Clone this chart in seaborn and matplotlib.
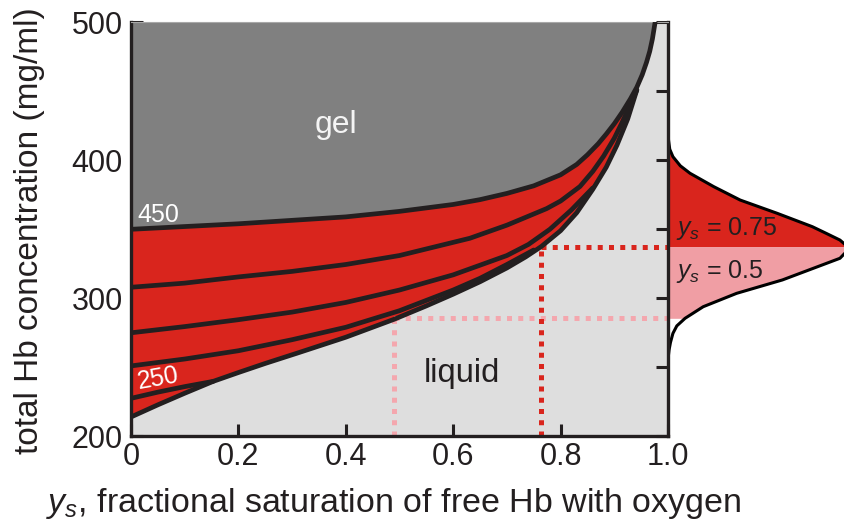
import numpy as np
import pandas as pd
import matplotlib
matplotlib.use("Agg")
import matplotlib.pyplot as plt
import seaborn as sns

# ---------------- data ----------------
# gel boundary (top black curve)
gel_x = [0, 0.1, 0.2, 0.3, 0.4, 0.5, 0.6, 0.65, 0.7, 0.75, 0.8, 0.83, 0.85, 0.87,
         0.885, 0.9, 0.915, 0.93, 0.942, 0.952, 0.96, 0.966, 0.971, 0.976]
gel_y = [350, 352, 354, 356.5, 359, 363, 368, 371.5, 376, 381.5, 389.5, 397, 404, 412,
         419, 426.5, 435, 444.5, 453, 462, 471, 479, 488, 500]
# lower boundary of the red band
bot_x = [0, 0.05, 0.1, 0.153, 0.2, 0.25, 0.309, 0.4, 0.49, 0.55, 0.6, 0.65, 0.7,
         0.735, 0.764, 0.8, 0.83, 0.86, 0.885, 0.905, 0.925, 0.942]
bot_y = [214, 222.8, 231.2, 239.8, 246.2, 252.8, 260.2, 271.8, 284.8, 294.5, 303,
         312, 322, 330, 337.5, 349, 362, 379, 395, 411, 430, 451]
# intermediate curves
a_x = [0, 0.1, 0.2, 0.3, 0.4, 0.5, 0.631, 0.7, 0.774, 0.8, 0.836, 0.86, 0.88, 0.9,
       0.914, 0.93, 0.942]
a_y = [308, 311, 315.5, 319.5, 324.5, 331, 343.5, 353, 365, 370.5, 381, 392, 403,
       416, 427, 440.5, 451]
b_x = [0, 0.1, 0.2, 0.3, 0.4, 0.5, 0.6, 0.7, 0.74, 0.78, 0.82, 0.86]
b_y = [275, 279.5, 284.5, 290, 297, 306, 317, 331, 339, 350, 364, 380]
c_x = [0, 0.1, 0.2, 0.3, 0.4, 0.5, 0.6, 0.65, 0.7, 0.75]
c_y = [251, 256, 262, 270, 279, 291, 306, 314.5, 324.5, 335]
d_x = [0, 0.05, 0.1, 0.153]
d_y = [227.5, 232, 236, 239.8]

# dotted guide lines
ys_high, conc_high = 0.764, 337.5
ys_low, conc_low = 0.49, 285.5

# distribution on the right (concentration, relative density)
bell_conc = [253, 258, 262.5, 268, 274.6, 280, 285.5, 293.9, 303.6, 313.3, 322.9, 329,
             334, 337.5, 342.2, 347, 351.9, 361.6, 371.2, 380.9, 390.6, 396, 402.6,
             408, 414.6, 424]
bell_dens = [0, 0.002, 0.006, 0.014, 0.028, 0.05, 0.097, 0.20, 0.39, 0.65, 0.85, 0.977,
             1.015, 1.02, 0.977, 0.9, 0.82, 0.62, 0.41, 0.26, 0.125, 0.07, 0.028,
             0.01, 0.003, 0]

x_ticks = [0, 0.2, 0.4, 0.6, 0.8, 1.0]
x_ticklabels = ["0", "0.2", "0.4", "0.6", "0.8", "1.0"]
y_major = [200, 300, 400, 500]
y_minor = [250, 350, 450]

# ---------------- style ----------------
sns.set_theme(style="white")
plt.rcParams["font.family"] = ["Liberation Sans", "DejaVu Sans"]
plt.rcParams["mathtext.fontset"] = "custom"
plt.rcParams["mathtext.rm"] = "Liberation Sans"
plt.rcParams["mathtext.it"] = "Liberation Sans:italic"

INK = "#231f20"
RED = "#d9251d"
PINK = "#f09ea4"
PINK_DOT = "#f4a7ae"
GEL = "#808080"
BG = "#dedede"

W, H = 844, 524
fig = plt.figure(figsize=(W / 100, H / 100), dpi=100)
bottom = 1 - 436.3 / H
height = (436.3 - 22.3) / H
ax2 = fig.add_axes([668 / W, bottom, 176 / W, height])
ax = fig.add_axes([131 / W, bottom, 537 / W, height])
ax.set_zorder(3)

ax.set_facecolor(BG)
ax.set_xlim(0, 1)
ax.set_ylim(200, 500)

# gel region
gx = np.array(gel_x)
gy = np.array(gel_y)
ax.fill(np.r_[gx, 0], np.r_[gy, 500], color=GEL, lw=0, zorder=1)
# red band between gel curve and lower boundary
m = gx <= 0.942
ax.fill(np.r_[gx[m], np.array(bot_x)[::-1]], np.r_[gy[m], np.array(bot_y)[::-1]],
        color=RED, lw=0, zorder=1)

# dotted guide lines
dot_kw = dict(lw=3.6, linestyle=(0, (1, 1.25)), dash_capstyle="butt", zorder=2)
ax.plot([ys_low, ys_low], [200, conc_low], color=PINK_DOT, **dot_kw)
ax.plot([ys_low, 1.0], [conc_low, conc_low], color=PINK_DOT, **dot_kw)
ax.plot([ys_high, ys_high], [200, conc_high], color=RED, **dot_kw)
ax.plot([ys_high, 1.0], [conc_high, conc_high], color=RED, **dot_kw)

# black curves
for xs, ys in [(d_x, d_y), (c_x, c_y), (b_x, b_y), (a_x, a_y), (bot_x, bot_y), (gel_x, gel_y)]:
    df = pd.DataFrame({"x": xs, "y": ys})
    sns.lineplot(data=df, x="x", y="y", ax=ax, color=INK, lw=3.4, sort=False,
                 estimator=None, legend=False, zorder=4)

# labels inside
ax.text(0.381, 419.8, "gel", fontsize=23, color="#f4f4f4", ha="center", va="baseline", zorder=5)
ax.text(0.6155, 239.6, "liquid", fontsize=23.5, color=INK, ha="center", va="baseline", zorder=5)
ax.text(0.011, 355.3, "450", fontsize=18, color="white", ha="left", va="baseline", zorder=5)
ax.text(0.05, 242, "250", fontsize=18, color="white", ha="center", va="center",
        rotation=10, rotation_mode="anchor", zorder=5)

# axes styling
ax.set_xlabel("")
ax.set_ylabel("")
ax.set_xticks(x_ticks)
ax.set_xticklabels(x_ticklabels)
ax.set_yticks(y_major)
ax.set_yticks(y_minor, minor=True)
ax.tick_params(axis="both", which="both", direction="in", length=8.5, width=2.2,
               color=INK, labelcolor=INK, labelsize=22, pad=6)
ax.tick_params(axis="x", pad=4)
ax.tick_params(axis="y", which="both", left=True, right=True)
ax.tick_params(axis="x", which="both", bottom=True, top=False)
for side in ["left", "bottom", "right"]:
    ax.spines[side].set_color(INK)
    ax.spines[side].set_linewidth(2.4)
    ax.spines[side].set_visible(True)
ax.spines["top"].set_color("#a8a8a8")
ax.spines["top"].set_linewidth(0.8)

# right distribution
bc = np.array(bell_conc)
bd = np.array(bell_dens)
up = bc >= conc_high
mid = (bc >= conc_low) & (bc <= conc_high)
ax2.fill_betweenx(bc[up], 0, bd[up], color=RED, lw=0)
ax2.fill_betweenx(bc[mid], 0, bd[mid], color=PINK, lw=0)
sns.lineplot(x=bd, y=bc, ax=ax2, color="black", lw=2.2, sort=False, estimator=None,
             legend=False)
ax2.set_xlim(0, 1)
ax2.set_ylim(200, 500)
ax2.axis("off")
ax2.text(0.045, 345.9, r"$y_s$ = 0.75", fontsize=18, color=INK, ha="left", va="baseline")
ax2.text(0.045, 314.5, r"$y_s$ = 0.5", fontsize=18, color=INK, ha="left", va="baseline")

# axis titles
fig.text(30 / W, 1 - 231 / H, "total Hb concentration (mg/ml)", rotation=90,
         ha="center", va="center", fontsize=24, color=INK)
fig.text(393 / W, 1 - 512 / H, r"$y_s$, fractional saturation of free Hb with oxygen",
         ha="center", va="baseline", fontsize=24.5, color=INK)

fig.savefig("out.png", dpi=100)
